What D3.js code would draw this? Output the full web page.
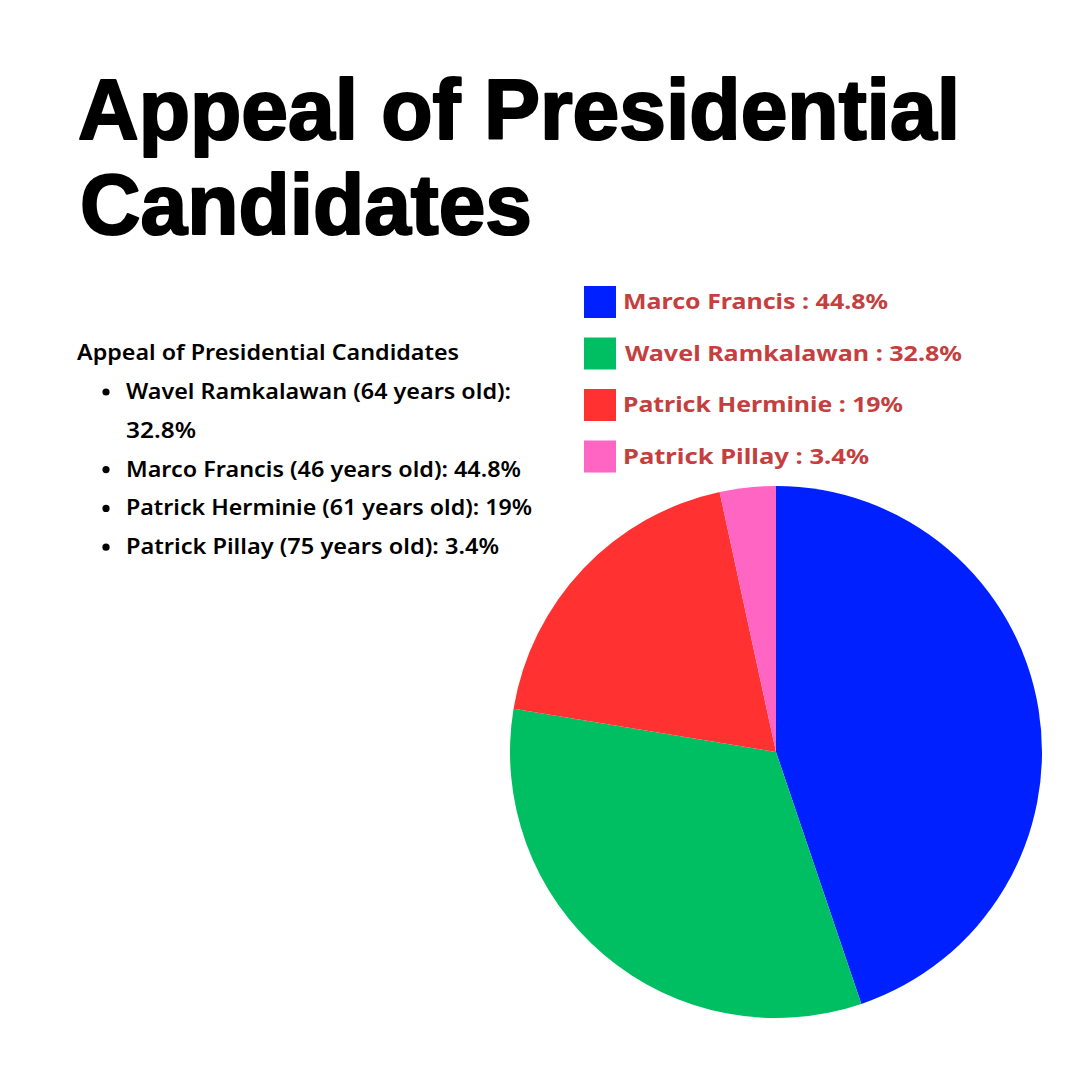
<!DOCTYPE html>
<html>
<head>
<meta charset="utf-8">
<script src="https://cdn.jsdelivr.net/npm/d3@7"></script>
<style>
  html, body { margin: 0; padding: 0; background: #fff; }
  svg { display: block; }
</style>
</head>
<body>
<svg id="chart" width="1080" height="1080"></svg>
<script>
// chart data
const candidates = ["Marco Francis", "Wavel Ramkalawan", "Patrick Herminie", "Patrick Pillay"];
const shares = [44.8, 32.8, 19, 3.4];
const ages = [46, 64, 61, 75];
const colors = ["#0020ff", "#00bf63", "#ff3131", "#ff66c4"];
// order used in the text list on the left
const listOrder = ["Wavel Ramkalawan", "Marco Francis", "Patrick Herminie", "Patrick Pillay"];

const title = ["Appeal of Presidential", "Candidates"];
const subtitle = "Appeal of Presidential Candidates";

const svg = d3.select("#chart");
const W = 1080, H = 1080;

svg.append("rect").attr("width", W).attr("height", H).attr("fill", "#fff");

// big title
const titleFont = "'Liberation Sans', Arial, sans-serif";
[[title[0], 78, 139, 882], [title[1], 80, 234, 452]].forEach(([t, x, y, w]) => {
  svg.append("text")
    .attr("x", x).attr("y", y)
    .attr("font-family", titleFont).attr("font-weight", 700)
    .attr("font-size", 85).attr("fill", "#000")
    .attr("stroke", "#000").attr("stroke-width", 2.2).attr("stroke-linejoin", "round")
    .attr("textLength", w).attr("lengthAdjust", "spacingAndGlyphs")
    .text(t);
});

// text list on the left
const listFont = "'Noto Sans', 'Open Sans', sans-serif";
svg.append("text")
  .attr("x", 77).attr("y", 360)
  .attr("font-family", listFont).attr("font-weight", 600)
  .attr("font-size", 22).attr("fill", "#000")
  .attr("textLength", 382).attr("lengthAdjust", "spacingAndGlyphs")
  .text(subtitle);

const lineStep = 38.8;
const listLines = [];
const widths = { "Marco Francis": 395, "Patrick Herminie": 406, "Patrick Pillay": 373 };
listOrder.forEach(name => {
  const i = candidates.indexOf(name);
  if (name === "Wavel Ramkalawan") {
    listLines.push({ text: `${name} (${ages[i]} years old):`, bullet: true, w: 385 });
    listLines.push({ text: `${shares[i]}%`, bullet: false, w: 70 });
  } else {
    listLines.push({ text: `${name} (${ages[i]} years old): ${shares[i]}%`, bullet: true, w: widths[name] });
  }
});
listLines.forEach((d, k) => {
  const y = 399 + k * lineStep;
  if (d.bullet) {
    svg.append("circle").attr("cx", 106).attr("cy", y - 7).attr("r", 3.6).attr("fill", "#000");
  }
  svg.append("text")
    .attr("x", 126).attr("y", y)
    .attr("font-family", listFont).attr("font-weight", 600)
    .attr("font-size", 22).attr("fill", "#000")
    .attr("textLength", d.w).attr("lengthAdjust", "spacingAndGlyphs")
    .text(d.text);
});

// pie
const cx = 776, cy = 752, r = 266;
const pie = d3.pie().sort(null).value(d => d)(shares);
const arc = d3.arc().innerRadius(0).outerRadius(r);
svg.append("g")
  .attr("transform", `translate(${cx},${cy})`)
  .selectAll("path")
  .data(pie)
  .join("path")
  .attr("d", arc)
  .attr("fill", (d, i) => colors[i]);

// legend
const legendY = d3.scaleBand().domain(candidates).range([286, 492]).paddingInner(0);
const legendWidths = [265, 337, 280, 246];
const legend = svg.append("g");
candidates.forEach((name, i) => {
  const y0 = legendY(name);
  legend.append("rect")
    .attr("x", 584).attr("y", y0).attr("width", 32).attr("height", 32)
    .attr("fill", colors[i]);
  legend.append("text")
    .attr("x", i === 1 ? 625 : 623).attr("y", y0 + 23)
    .attr("font-family", listFont).attr("font-weight", 700)
    .attr("font-size", 22).attr("fill", "#c53f3f")
    .attr("textLength", legendWidths[i]).attr("lengthAdjust", "spacingAndGlyphs")
    .text(`${name} : ${shares[i]}%`);
});
</script>
</body>
</html>
